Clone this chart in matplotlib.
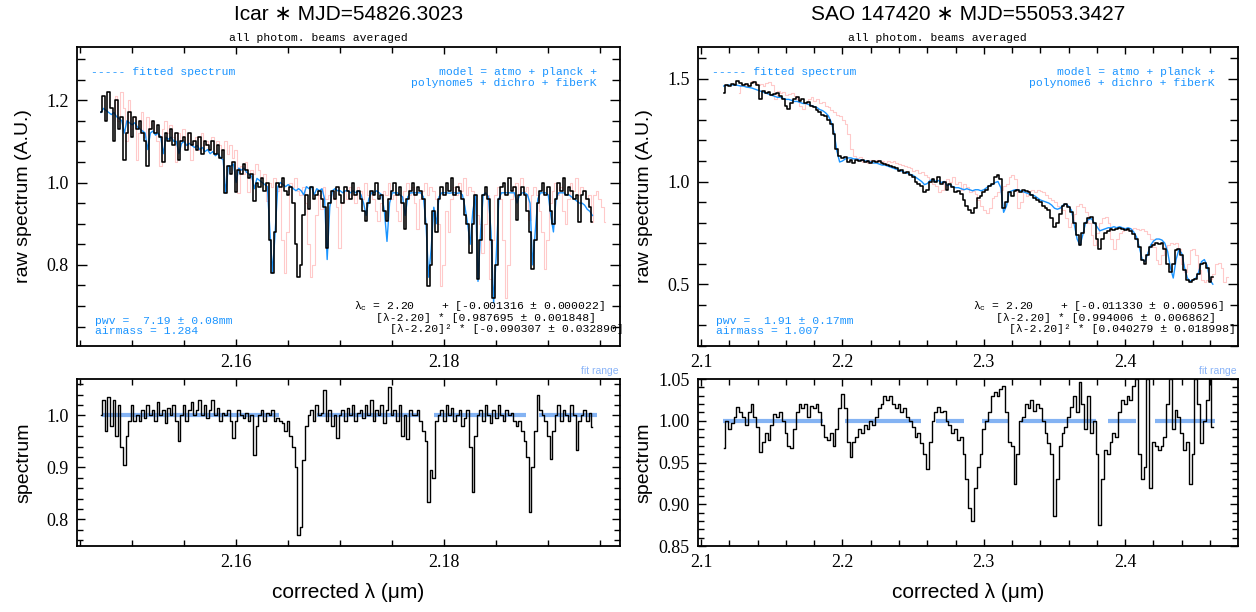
import numpy as np
import matplotlib
matplotlib.use("Agg")
import matplotlib.pyplot as plt
from matplotlib.ticker import MultipleLocator, FormatStrFormatter

# fonts: serif tick labels, sans axis labels, courier-like annotations
SERIF = ['Liberation Serif', 'DejaVu Serif']
SANS = ['Liberation Sans', 'DejaVu Sans']
MONO = ['Liberation Mono', 'DejaVu Sans Mono']
plt.rcParams['font.family'] = SERIF
plt.rcParams['mathtext.fontset'] = 'custom'
plt.rcParams['mathtext.rm'] = 'Liberation Mono'

BLUE = '#1a94ff'
PINK = '#ffcaca'
FITBLUE = '#6fa6f2'
MONO_SIZE = 8.2

# ---------------- Icar (left column) ----------------
icar_wl_start = 2.147
icar_wl_step = 0.00025
icar_raw = [
    1.17, 1.21, 1.15, 1.22, 1.18, 1.10, 1.20, 1.13, 1.16, 1.055,
    1.12, 1.17, 1.11, 1.16, 1.13, 1.15, 1.12, 1.10, 1.04, 1.13,
    1.15, 1.12, 1.14, 1.11, 1.05, 1.12, 1.10, 1.13, 1.09, 1.12,
    1.055, 1.10, 1.11, 1.08, 1.12, 1.09, 1.10, 1.08, 1.11, 1.07,
    1.10, 1.09, 1.08, 1.10, 1.07, 1.09, 1.06, 1.08, 0.974, 1.04,
    1.02, 1.05, 0.976, 1.03, 1.02, 1.045, 1.03, 1.01, 1.02, 0.954,
    1.00, 0.99, 1.01, 0.98, 1.00, 0.86, 0.78, 0.88, 1.00, 0.99,
    1.01, 0.98, 0.97, 0.99, 0.95, 0.85, 0.77, 0.80, 0.92, 0.97,
    0.935, 0.99, 0.96, 0.97, 0.98, 0.96, 0.94, 0.84, 0.95, 0.98,
    0.96, 0.99, 0.97, 0.95, 0.99, 0.98, 0.96, 1.00, 0.97, 0.98,
    0.96, 0.93, 0.906, 0.95, 0.98, 0.97, 1.00, 0.96, 0.97, 0.93,
    0.906, 0.96, 0.98, 1.00, 0.97, 0.99, 0.95, 0.886, 0.96, 0.98,
    1.00, 0.97, 0.99, 0.98, 0.96, 0.90, 0.749, 0.80, 0.93, 0.88,
    0.96, 0.99, 0.97, 1.00, 0.98, 1.01, 0.97, 0.99, 0.98, 0.96,
    0.92, 0.90, 0.829, 0.90, 0.97, 0.765, 0.86, 0.97, 0.99, 0.96,
    0.86, 0.72, 0.80, 0.96, 0.99, 1.00, 0.97, 1.01, 0.98, 0.99,
    0.91, 0.97, 0.99, 0.97, 0.93, 0.88, 0.789, 0.86, 0.95, 0.98,
    1.00, 0.97, 0.99, 0.93, 0.90, 0.96, 1.00, 0.98, 1.01, 0.97,
    0.99, 0.98, 0.96, 0.97, 0.905, 0.97, 0.98, 0.96, 0.94, 0.905,
]
icar_model = [
    1.17, 1.18, 1.175, 1.17, 1.165, 1.17, 1.16, 1.155, 1.15, 1.12,
    1.15, 1.145, 1.14, 1.145, 1.135, 1.13, 1.125, 1.12, 1.08, 1.12,
    1.125, 1.115, 1.12, 1.11, 1.07, 1.11, 1.105, 1.11, 1.10, 1.10,
    1.07, 1.095, 1.10, 1.09, 1.095, 1.09, 1.085, 1.09, 1.08, 1.085,
    1.075, 1.08, 1.07, 1.075, 1.065, 1.07, 1.06, 1.055, 0.975, 1.04,
    1.04, 1.045, 1.00, 1.035, 1.03, 1.035, 1.025, 1.02, 1.015, 0.985,
    1.01, 1.005, 1.0, 0.995, 0.99, 0.88, 0.78, 0.88, 0.99, 1.0,
    0.995, 0.99, 0.995, 0.99, 0.985, 0.98, 0.985, 0.98, 0.97, 0.99,
    0.985, 0.99, 0.97, 0.985, 0.98, 0.985, 0.96, 0.813, 0.94, 0.98,
    0.985, 0.98, 0.98, 0.975, 0.98, 0.98, 0.975, 0.98, 0.975, 0.98,
    0.97, 0.95, 0.92, 0.96, 0.975, 0.975, 0.98, 0.975, 0.97, 0.93,
    0.857, 0.95, 0.975, 0.975, 0.975, 0.97, 0.965, 0.92, 0.965, 0.975,
    0.975, 0.975, 0.975, 0.975, 0.965, 0.90, 0.77, 0.84, 0.94, 0.90,
    0.965, 0.975, 0.975, 0.975, 0.974, 0.975, 0.975, 0.974, 0.975, 0.97,
    0.94, 0.90, 0.85, 0.93, 0.97, 0.76, 0.88, 0.97, 0.975, 0.965,
    0.88, 0.708, 0.82, 0.96, 0.975, 0.975, 0.975, 0.975, 0.975, 0.975,
    0.95, 0.97, 0.975, 0.975, 0.97, 0.95, 0.80, 0.88, 0.96, 0.975,
    0.975, 0.975, 0.97, 0.92, 0.88, 0.96, 0.975, 0.975, 0.975, 0.97,
    0.97, 0.965, 0.96, 0.955, 0.95, 0.95, 0.945, 0.935, 0.93, 0.92,
]
icar_norm = [
    1.00, 1.03, 0.97, 1.035, 0.98, 1.03, 0.96, 1.02, 0.94, 0.905,
    0.96, 0.99, 1.02, 0.99, 1.00, 0.99, 1.01, 0.995, 1.02, 1.00,
    1.01, 0.99, 1.025, 1.00, 1.01, 0.985, 1.015, 1.00, 1.02, 0.99,
    0.95, 1.00, 1.02, 0.99, 1.01, 1.025, 1.00, 1.01, 1.03, 1.00,
    1.02, 0.995, 1.01, 1.03, 1.00, 1.015, 0.99, 1.005, 1.00, 1.01,
    0.99, 0.956, 0.99, 1.01, 1.00, 0.995, 1.005, 0.99, 1.00, 0.924,
    0.98, 1.00, 1.01, 0.99, 1.005, 1.00, 1.01, 0.99, 0.995, 0.99,
    0.985, 0.97, 0.99, 0.96, 0.94, 0.90, 0.77, 0.786, 0.914, 0.98,
    1.00, 1.01, 0.99, 1.02, 1.00, 1.005, 1.049, 0.99, 1.01, 0.98,
    1.00, 0.956, 1.00, 1.01, 0.99, 1.015, 1.00, 1.02, 0.99, 1.005,
    1.01, 0.995, 1.02, 1.00, 1.03, 0.99, 1.01, 1.00, 1.02, 0.985,
    1.01, 1.055, 1.00, 1.01, 0.99, 1.02, 0.96, 1.00, 0.955, 1.01,
    1.00, 1.00, 1.01, 0.99, 0.97, 0.95, 0.834, 0.895, 0.88, 0.99,
    1.00, 1.01, 0.99, 1.02, 1.00, 1.015, 0.99, 1.00, 1.01, 0.98,
    0.995, 1.01, 0.94, 0.853, 0.96, 1.00, 1.01, 0.99, 1.02, 1.00,
    0.985, 1.01, 0.995, 1.02, 1.00, 0.99, 1.01, 1.00, 1.005, 0.99,
    0.98, 0.99, 0.97, 0.95, 0.92, 0.815, 0.90, 0.97, 1.04, 1.01,
    1.00, 0.99, 0.96, 0.917, 0.97, 1.00, 1.02, 0.99, 1.01, 1.00,
    0.99, 1.02, 1.00, 0.933, 0.99, 1.00, 1.01, 0.99, 1.005, 0.978,
]
icar_raw_offset = 0.0012   # uncorrected wavelength scale (pink) sits this far to the red
icar_fit = [(2.1471, 2.1641), (2.1678, 2.1776), (2.1790, 2.1879), (2.1891, 2.1947)]

# ---------------- SAO 147420 (right column) ----------------
sao_wl_start = 2.116
sao_wl_step = 0.002
sao_raw = [
    1.43, 1.47, 1.465, 1.475, 1.47, 1.49, 1.48, 1.47, 1.475, 1.465,
    1.48, 1.485, 1.47, 1.40, 1.44, 1.43, 1.435, 1.42, 1.425, 1.43,
    1.415, 1.40, 1.37, 1.355, 1.38, 1.40, 1.41, 1.39, 1.40, 1.38,
    1.385, 1.37, 1.365, 1.35, 1.34, 1.325, 1.32, 1.30, 1.28, 1.23,
    1.16, 1.125, 1.115, 1.12, 1.095, 1.105, 1.09, 1.105, 1.10, 1.105,
    1.095, 1.10, 1.09, 1.10, 1.095, 1.10, 1.09, 1.085, 1.08, 1.075,
    1.07, 1.065, 1.05, 1.055, 1.04, 1.045, 1.03, 1.02, 1.00, 0.99,
    0.98, 0.95, 0.96, 1.00, 1.01, 1.00, 1.02, 0.99, 1.00, 0.96,
    0.99, 0.975, 0.95, 0.955, 0.94, 0.91, 0.88, 0.86, 0.845, 0.87,
    0.92, 0.93, 0.95, 0.96, 0.98, 0.99, 1.02, 1.03, 1.01, 0.87,
    0.90, 0.95, 0.93, 0.955, 0.96, 0.95, 0.96, 0.955, 0.95, 0.935,
    0.92, 0.91, 0.90, 0.88, 0.87, 0.86, 0.82, 0.78, 0.80, 0.84,
    0.88, 0.89, 0.875, 0.85, 0.80, 0.74, 0.69, 0.75, 0.80, 0.82,
    0.825, 0.80, 0.72, 0.67, 0.72, 0.75, 0.76, 0.77, 0.765, 0.77,
    0.775, 0.77, 0.765, 0.77, 0.76, 0.745, 0.72, 0.68, 0.62, 0.60,
    0.64, 0.68, 0.69, 0.70, 0.695, 0.70, 0.67, 0.60, 0.56, 0.60,
    0.665, 0.67, 0.64, 0.57, 0.52, 0.51, 0.52, 0.525, 0.55, 0.60,
    0.605, 0.58, 0.51, 0.535,
]
sao_model = [
    1.465, 1.468, 1.47, 1.47, 1.47, 1.468, 1.465, 1.465, 1.46, 1.458,
    1.455, 1.45, 1.445, 1.44, 1.435, 1.43, 1.425, 1.42, 1.415, 1.41,
    1.41, 1.405, 1.40, 1.40, 1.395, 1.39, 1.39, 1.385, 1.38, 1.38,
    1.375, 1.37, 1.365, 1.36, 1.35, 1.345, 1.335, 1.32, 1.29, 1.24,
    1.15, 1.095, 1.10, 1.11, 1.115, 1.115, 1.11, 1.11, 1.105, 1.105,
    1.10, 1.10, 1.095, 1.09, 1.09, 1.085, 1.08, 1.08, 1.075, 1.07,
    1.065, 1.06, 1.055, 1.05, 1.045, 1.04, 1.035, 1.03, 1.02, 1.01,
    1.0, 0.985, 0.99, 1.005, 1.01, 1.0, 1.005, 0.995, 1.0, 0.98,
    0.985, 0.975, 0.97, 0.97, 0.965, 0.96, 0.965, 0.96, 0.955, 0.96,
    0.96, 0.955, 0.96, 0.97, 0.98, 0.985, 0.995, 1.0, 0.97, 0.85,
    0.88, 0.95, 0.955, 0.96, 0.96, 0.955, 0.95, 0.945, 0.94, 0.935,
    0.93, 0.92, 0.91, 0.905, 0.90, 0.895, 0.885, 0.87, 0.865, 0.87,
    0.885, 0.89, 0.88, 0.86, 0.79, 0.72, 0.69, 0.74, 0.80, 0.815,
    0.82, 0.80, 0.78, 0.76, 0.765, 0.77, 0.775, 0.775, 0.78, 0.775,
    0.78, 0.775, 0.77, 0.775, 0.77, 0.755, 0.73, 0.68, 0.62, 0.61,
    0.65, 0.69, 0.71, 0.72, 0.72, 0.715, 0.70, 0.66, 0.58, 0.53,
    0.62, 0.67, 0.65, 0.58, 0.53, 0.515, 0.52, 0.53, 0.56, 0.61,
    0.62, 0.59, 0.52, 0.50,
]
sao_norm = [
    0.967, 1.0, 0.99, 0.997, 1.005, 1.017, 1.01, 1.005, 0.995, 1.01,
    1.02, 1.005, 0.993, 0.963, 0.975, 0.985, 0.977, 0.995, 1.008, 1.005,
    1.01, 1.0, 0.985, 0.97, 0.967, 0.99, 1.01, 1.02, 1.015, 1.02,
    1.005, 1.018, 1.015, 1.02, 1.01, 0.995, 0.98, 0.977, 0.985, 0.97,
    0.99, 1.015, 1.032, 1.015, 0.975, 0.957, 0.975, 0.98, 0.99, 0.985,
    0.995, 0.99, 1.0, 0.995, 1.005, 1.015, 1.02, 1.03, 1.025, 1.03,
    1.02, 1.015, 1.02, 1.01, 1.015, 1.005, 1.0, 0.993, 0.98, 0.985,
    0.973, 0.96, 0.942, 0.975, 1.0, 1.01, 1.017, 1.01, 1.012, 1.0,
    0.995, 0.985, 0.99, 0.977, 0.98, 0.96, 0.93, 0.895, 0.88, 0.92,
    0.945, 0.96, 0.99, 1.0, 1.01, 1.03, 1.035, 1.03, 1.038, 1.042,
    1.01, 0.975, 0.97, 0.924, 0.96, 1.0, 1.005, 1.02, 1.015, 1.025,
    1.012, 1.02, 1.015, 1.0, 0.985, 0.973, 0.96, 0.886, 0.93, 0.97,
    0.985, 0.993, 1.005, 1.017, 1.03, 1.01, 1.046, 1.02, 0.99, 1.03,
    0.985, 1.0, 0.96, 0.875, 0.93, 0.965, 0.96, 0.975, 0.985, 0.98,
    1.01, 1.025, 1.02, 1.03, 1.025, 1.042, 1.05, 0.96, 0.93, 0.945,
    1.05, 0.92, 0.975, 0.97, 0.965, 0.97, 0.98, 1.02, 1.05, 0.99,
    1.013, 1.005, 0.985, 0.965, 0.975, 0.924, 0.96, 1.05, 1.02, 0.973,
    1.0, 1.025, 1.05, 0.993,
]
sao_raw_offset = 0.0105
sao_fit = [(2.1155, 2.1860), (2.2020, 2.2555), (2.2660, 2.2860), (2.2987, 2.3180),
           (2.3260, 2.3795), (2.3875, 2.4075), (2.4208, 2.4635)]

titles = ['Icar \u2217 MJD=54826.3023', 'SAO 147420 \u2217 MJD=55053.3427']
model_texts = ['model = atmo + planck +\npolynome5 + dichro + fiberK',
               'model = atmo + planck +\npolynome6 + dichro + fiberK']
pwv_texts = ['pwv =  7.19 \u00b1 0.08mm\nairmass = 1.284',
             'pwv =  1.91 \u00b1 0.17mm\nairmass = 1.007']
lambda_texts = [
    [r'λ$_\mathrm{c}$ = 2.20    + [-0.001316 ± 0.000022]',
     '[λ-2.20] * [0.987695 ± 0.001848]',
     '[λ-2.20]² * [-0.090307 ± 0.032890]'],
    [r'λ$_\mathrm{c}$ = 2.20    + [-0.011330 ± 0.000596]',
     '[λ-2.20] * [0.994006 ± 0.006862]',
     '[λ-2.20]² * [0.040279 ± 0.018998]'],
]


def style_axis(ax, xmaj, xmin, ymaj, ymin, xfmt, yfmt, ylen):
    ax.xaxis.set_major_locator(MultipleLocator(xmaj))
    ax.xaxis.set_minor_locator(MultipleLocator(xmin))
    ax.yaxis.set_major_locator(MultipleLocator(ymaj))
    ax.yaxis.set_minor_locator(MultipleLocator(ymin))
    ax.xaxis.set_major_formatter(FormatStrFormatter(xfmt))
    ax.yaxis.set_major_formatter(FormatStrFormatter(yfmt))
    ax.tick_params(axis='both', which='both', direction='in', top=True, right=True,
                   labelsize=13, width=1.0)
    ax.tick_params(axis='x', which='major', length=4.8, pad=6)
    ax.tick_params(axis='x', which='minor', length=4.2)
    ax.tick_params(axis='y', which='major', length=ylen, pad=6)
    ax.tick_params(axis='y', which='minor', length=ylen * 0.8)
    for s in ax.spines.values():
        s.set_linewidth(1.3)


def draw_column(fig, left, width, k, wl_start, wl_step, raw, model, norm, offset, fits,
                xlim, ylim_top, ylim_bot, xmaj, xmin, ymaj_t, ymin_t, ymaj_b, ymin_b,
                xfmt, yfmt_t, yfmt_b, ylab_x):
    wl = wl_start + wl_step * np.arange(len(raw))
    wl_m = wl_start + wl_step * np.arange(len(model))
    wl_n = wl_start + wl_step * np.arange(len(norm))

    ax = fig.add_axes([left, 0.4346, width, 0.4886])
    ax.plot(wl + offset, raw, color=PINK, lw=0.8, drawstyle='steps-mid', zorder=1)
    ax.plot(wl_m, model, color=BLUE, lw=1.0, zorder=2)
    ax.plot(wl, raw, color='black', lw=1.15, drawstyle='steps-mid', zorder=3)
    ax.set_xlim(*xlim)
    ax.set_ylim(*ylim_top)
    style_axis(ax, xmaj, xmin, ymaj_t, ymin_t, xfmt, yfmt_t, 7.2)
    ax.set_ylabel('raw spectrum (A.U.)', family=SANS, fontsize=14)
    ax.yaxis.set_label_coords(ylab_x, 0.5)

    ax.text(0.5, 1.11, titles[k], transform=ax.transAxes, ha='center', va='center',
            fontsize=15, family=SANS)
    ax.text(0.444, 1.029, 'all photom. beams averaged', transform=ax.transAxes,
            ha='center', va='center', fontsize=MONO_SIZE, family=MONO)
    ax.text(0.026, 0.916, '----- fitted spectrum', transform=ax.transAxes,
            ha='left', va='center', fontsize=MONO_SIZE, family=MONO, color=BLUE)
    ax.text(0.957, 0.898, model_texts[k], transform=ax.transAxes, ha='right',
            va='center', fontsize=MONO_SIZE, family=MONO, color=BLUE, linespacing=1.05)
    ax.text(0.034, 0.067, pwv_texts[k], transform=ax.transAxes, ha='left',
            va='center', fontsize=MONO_SIZE, family=MONO, color=BLUE, linespacing=1.05)
    for line, xf, yf in zip(lambda_texts[k], [0.510, 0.551, 0.576], [0.134, 0.095, 0.056]):
        ax.text(xf, yf, line, transform=ax.transAxes, ha='left', va='center',
                fontsize=MONO_SIZE, family=MONO, color='black')

    axb = fig.add_axes([left, 0.1078, width, 0.2729])
    for a, b in fits:
        axb.plot([a, b], [1.0, 1.0], color=FITBLUE, lw=3, alpha=0.85,
                 solid_capstyle='butt', zorder=1)
    axb.plot(wl_n, norm, color='black', lw=1.0, drawstyle='steps-mid', zorder=2)
    axb.set_xlim(*xlim)
    axb.set_ylim(*ylim_bot)
    style_axis(axb, xmaj, xmin, ymaj_b, ymin_b, xfmt, yfmt_b, 5.5)
    axb.set_ylabel('spectrum', family=SANS, fontsize=14)
    axb.yaxis.set_label_coords(ylab_x, 0.5)
    axb.set_xlabel('corrected λ (μm)', family=SANS, fontsize=15)
    axb.xaxis.set_label_coords(0.5, -0.222)
    axb.text(0.997, 1.045, 'fit range', transform=axb.transAxes, ha='right',
             va='center', fontsize=7.5, family=SANS, color='#8ab4f8')


fig = plt.figure(figsize=(12.56, 6.12), dpi=100)
fig.patch.set_facecolor('white')

draw_column(fig, 77 / 1256, 543 / 1256, 0, icar_wl_start, icar_wl_step,
            icar_raw, icar_model, icar_norm, icar_raw_offset, icar_fit,
            (2.1447, 2.1969), (0.603, 1.329), (0.749, 1.070),
            0.02, 0.005, 0.2, 0.05, 0.1, 0.02, '%.2f', '%.1f', '%.1f', -0.082)

draw_column(fig, 698 / 1256, 540 / 1256, 1, sao_wl_start, sao_wl_step,
            sao_raw, sao_model, sao_norm, sao_raw_offset, sao_fit,
            (2.0978, 2.4798), (0.199, 1.655), (0.85, 1.05),
            0.1, 0.02, 0.5, 0.1, 0.05, 0.01, '%.1f', '%.1f', '%.2f', -0.084)

fig.savefig('out.png', dpi=100)
